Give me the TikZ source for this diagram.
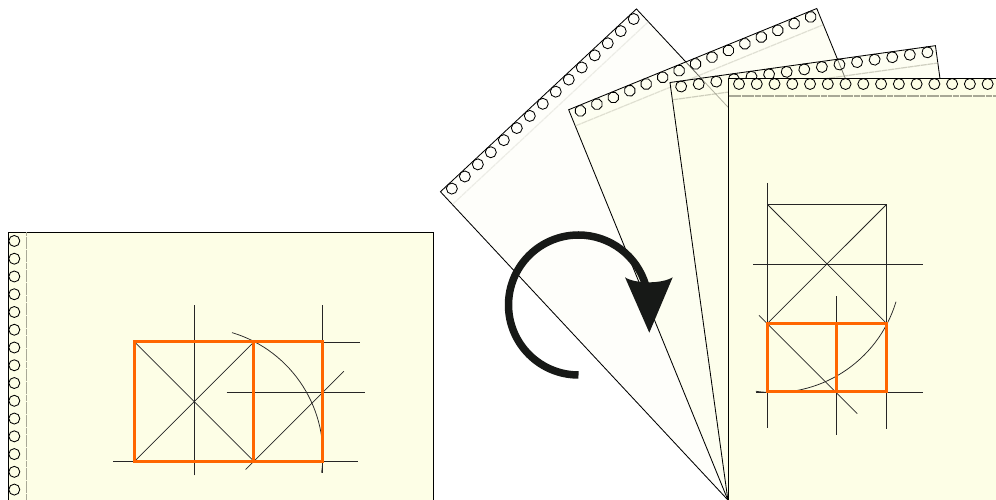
\documentclass[tikz,border=0pt]{standalone}
\usetikzlibrary{calc}
\definecolor{paper}{HTML}{FDFEE6}
\definecolor{orangeline}{HTML}{FF6600}
\definecolor{arrowink}{HTML}{171917}
\definecolor{foldline}{HTML}{A8A896}
\tikzset{
  sheetedge/.style={draw=black,line width=.85pt},
  hole/.style={draw=black,line width=.85pt},
  thin line/.style={draw=black!85,line width=.75pt},
  goldrect/.style={draw=orangeline,line width=3pt,line join=miter},
  sheetframe/.style={shift={(#1,0)}},
  figframe/.style={shift={(-728.5,499.7)},yscale=-1},
}
% #1 fill opacity, #2 fold-line opacity, #3 lower end of the sheet
\newcommand{\papersheet}[3]{%
  \path[fill=paper,fill opacity=#1] (0,#3) rectangle (268,421.5);
  \draw[sheetedge] (0,#3) rectangle (268,421.5);
  \draw[foldline,line width=1.2pt,draw opacity=#2,dash pattern=on 6pt off .6pt] (0,404) -- (268,404);
  \foreach \i in {0,...,14}
    \path[hole] ({10.5+17.76*\i},416) circle[radius=5.5];
}
\newcommand{\goldlines}{%
    \coordinate (tl) at (767.3,204);
    \coordinate (tr) at (886.7,204);
    \coordinate (ml) at (767.3,323.3);
    \coordinate (mr) at (886.7,323.3);
    \coordinate (bl) at (767.3,391.7);
    \coordinate (bm) at (836.3,391.7);
    \coordinate (br) at (886.7,391.7);
    \coordinate (mm) at (836.3,323.3);
    \draw[thin line] (767.3,182.7) -- (767.3,427.3);
    \draw[thin line] (tl) -- (tr) -- (886.7,429);
    \draw[thin line] (753.3,263.7) -- (923.3,263.7);
    \draw[thin line] (836.3,296) -- (836.3,434.7);
    \draw[thin line] (tl) -- (mr);
    \draw[thin line] (tr) -- (ml);
    \draw[thin line] (759,315) -- (857.3,413.3);
    \draw[thin line] (756,391.7) -- (923.3,391.7);
    \draw[thin line] (755.9,391) arc[start angle=98.1,end angle=16.7,radius=127.5];
}
\begin{document}
\begin{tikzpicture}[x=1pt,y=1pt]
  \useasboundingbox (0,0) rectangle (996,500);
  \fill[white] (0,0) rectangle (996,500);
  \clip (0,0) rectangle (996,500);
  % landscape sheet
  \begin{scope}[shift={(430.3,-.1)},rotate=90]
    \papersheet{1}{1}{-2.7}
    \begin{scope}[figframe]
      \goldlines
      \draw[goldrect] (tl) rectangle (br);
      \draw[goldrect] (ml) -- (mr);
    \end{scope}
  \end{scope}
  % fan of turning sheets
  \begin{scope}[sheetframe=727.9,rotate=43]
    \papersheet{.2}{.2}{0}
  \end{scope}
  \begin{scope}[sheetframe=727.9,rotate=22.2]
    \papersheet{.42}{.35}{0}
  \end{scope}
  \begin{scope}[sheetframe=727.9,rotate=7.9]
    \papersheet{.5}{.55}{0}
  \end{scope}
  % upright sheet
  \begin{scope}[sheetframe=728.5]
    \papersheet{1}{1}{-2.7}
    \begin{scope}[figframe]
      \goldlines
      \draw[goldrect] (ml) rectangle (br);
      \draw[goldrect] (mm) -- (bm);
    \end{scope}
  \end{scope}
  % turning arrow
  \draw[arrowink,line width=7.5pt] (578.5,125) arc[start angle=270,end angle=16,radius=70];
  \fill[arrowink] (625,222.7) .. controls (635,216) and (662,216) .. (672.7,222.7) -- (649.3,167.3) -- cycle;
\end{tikzpicture}
\end{document}
